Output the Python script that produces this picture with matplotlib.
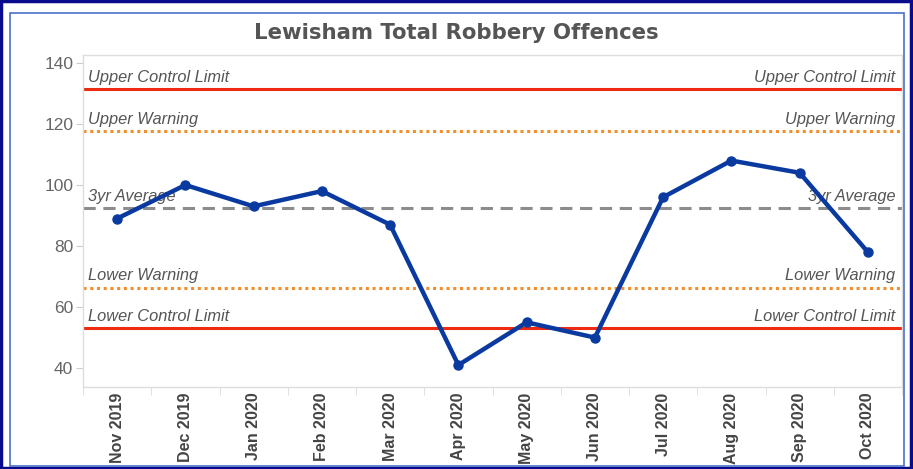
import matplotlib
matplotlib.use("Agg")
import matplotlib.pyplot as plt
from matplotlib.patches import Rectangle
import matplotlib.transforms as mtransforms

plt.rcParams["font.family"] = ["Liberation Sans", "DejaVu Sans"]

months = ["Nov 2019", "Dec 2019", "Jan 2020", "Feb 2020", "Mar 2020", "Apr 2020",
          "May 2020", "Jun 2020", "Jul 2020", "Aug 2020", "Sep 2020", "Oct 2020"]
offences = [89, 100, 93, 98, 87, 41, 55, 50, 96, 108, 104, 78]

upper_control = 131.4
upper_warning = 117.6
average_3yr = 92.3
lower_warning = 66.4
lower_control = 53.0

yticks = [40, 60, 80, 100, 120, 140]

fig = plt.figure(figsize=(9.13, 4.69), dpi=100)
fig.patch.set_facecolor("white")

# outer navy frame and inner light blue frame
fig.add_artist(Rectangle((0.001, 0.002), 0.997, 0.996, transform=fig.transFigure,
                         fill=False, edgecolor="#0a0a8c", linewidth=2.5))
fig.add_artist(Rectangle((10 / 913, 3 / 469), (904 - 10) / 913, 453 / 469,
                         transform=fig.transFigure, fill=False,
                         edgecolor="#4a72c8", linewidth=1.2))

ax = fig.add_axes([83 / 913, 1 - 387 / 469, (902 - 83) / 913, (387 - 55) / 469])
x = list(range(len(months)))

lines = [
    (upper_control, "Upper Control Limit", "#ee2a10", "-", 2.2),
    (upper_warning, "Upper Warning", "#f28e2b", (0, (1, 1.2)), 2.2),
    (average_3yr, "3yr Average", "#8c8c8c", (0, (4, 2.5)), 2.2),
    (lower_warning, "Lower Warning", "#f28e2b", (0, (1, 1.2)), 2.2),
    (lower_control, "Lower Control Limit", "#ee2a10", "-", 2.2),
]
trans = mtransforms.blended_transform_factory(ax.transAxes, ax.transData)
for val, lab, col, ls, lw in lines:
    ax.axhline(val, color=col, linestyle=ls, linewidth=lw, zorder=2)
    ax.annotate(lab, xy=(0.006, val), xycoords=trans, xytext=(0, 5.5),
                textcoords="offset points", ha="left", va="baseline",
                fontsize=11.8, style="italic", color="#555555", zorder=1)
    ax.annotate(lab, xy=(0.992, val), xycoords=trans, xytext=(0, 5.5),
                textcoords="offset points", ha="right", va="baseline",
                fontsize=11.8, style="italic", color="#555555", zorder=1)

ax.plot(x, offences, color="#0a3aa0", linewidth=3.2, marker="o", markersize=6.5,
        zorder=4, solid_capstyle="round")

ax.set_xlim(-0.5, len(months) - 0.5)
ax.set_ylim(33.8, 142.6)
ax.set_yticks(yticks)
ax.set_yticklabels([str(v) for v in yticks], fontsize=12.5, color="#666666")
ax.tick_params(axis="y", length=5, color="#cccccc", pad=2)

ax.set_xticks(x)
ax.set_xticklabels(months, rotation=90, fontsize=11.5, fontweight="bold", color="#444444")
ax.tick_params(axis="x", which="major", length=0, pad=4)
ax.set_xticks([i - 0.5 for i in range(len(months) + 1)], minor=True)
ax.tick_params(axis="x", which="minor", length=6, color="#dddddd")

for s in ax.spines.values():
    s.set_color("#dddddd")
    s.set_linewidth(1)

fig.text(0.5, 1 - 33 / 469, "Lewisham Total Robbery Offences", ha="center", va="center",
         fontsize=15.3, fontweight="bold", color="#555555", family="DejaVu Sans")

fig.savefig("out.png", dpi=100)
